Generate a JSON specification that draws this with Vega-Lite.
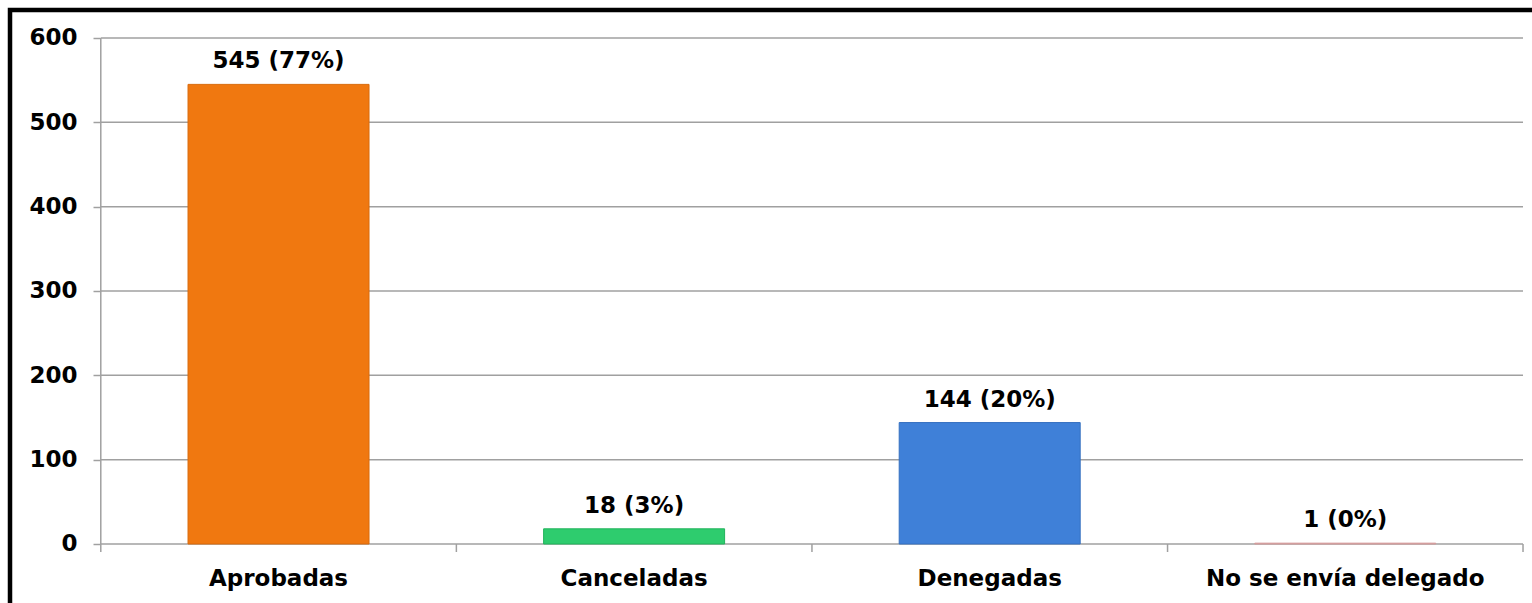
{
  "$schema": "https://vega.github.io/schema/vega-lite/v6.json",
  "autosize": {"type": "none"},
  "width": 1532,
  "height": 603,
  "padding": {"left": 10, "top": 10, "right": -10, "bottom": -10},
  "background": "#ffffff",
  "view": {"stroke": "#000000", "strokeWidth": 4.5},
  "datasets": {
    "main": [
      {"categoria": "Aprobadas", "valor": 545, "etiqueta": "545 (77%)"},
      {"categoria": "Canceladas", "valor": 18, "etiqueta": "18 (3%)"},
      {"categoria": "Denegadas", "valor": 144, "etiqueta": "144 (20%)"},
      {"categoria": "No se envía delegado", "valor": 1, "etiqueta": "1 (0%)"}
    ],
    "grid": [{"v": 0}, {"v": 100}, {"v": 200}, {"v": 300}, {"v": 400}, {"v": 500}, {"v": 600}],
    "one": [{"k": 1}]
  },
  "data": {"name": "main"},
  "layer": [
    {
      "data": {"name": "grid"},
      "mark": {"type": "rule", "color": "#A0A0A0", "strokeWidth": 1.5},
      "encoding": {
        "y": {"field": "v", "type": "quantitative", "title": null},
        "x": {"datum": "Aprobadas", "type": "nominal", "bandPosition": -0.482, "title": null},
        "x2": {"datum": "No se envía delegado", "bandPosition": 1.482}
      }
    },
    {
      "data": {"name": "one"},
      "mark": {"type": "rule", "color": "#A0A0A0", "strokeWidth": 1.5},
      "encoding": {
        "x": {"datum": "Aprobadas", "type": "nominal", "bandPosition": -0.482, "title": null},
        "y": {"datum": 0, "type": "quantitative", "title": null},
        "y2": {"datum": 600}
      }
    },
    {
      "mark": {"type": "rule", "color": "#A0A0A0", "strokeWidth": 1.5},
      "encoding": {
        "x": {"field": "categoria", "type": "nominal", "bandPosition": -0.482, "title": null},
        "y": {"datum": 0, "type": "quantitative", "title": null},
        "y2": {"datum": -9.5}
      }
    },
    {
      "data": {"name": "one"},
      "mark": {"type": "rule", "color": "#A0A0A0", "strokeWidth": 1.5},
      "encoding": {
        "x": {"datum": "No se envía delegado", "type": "nominal", "bandPosition": 1.482, "title": null},
        "y": {"datum": 0, "type": "quantitative", "title": null},
        "y2": {"datum": -9.5}
      }
    },
    {
      "mark": {"type": "bar", "strokeWidth": 1},
      "encoding": {
        "x": {
          "field": "categoria",
          "type": "nominal",
          "sort": null,
          "title": null,
          "scale": {"type": "band", "paddingInner": 0.491, "paddingOuter": 0.3997, "align": 0.6263},
          "axis": {
            "orient": "bottom",
            "offset": -69,
            "title": null,
            "bandPosition": 0.5,
            "domain": false,
            "ticks": false,
            "tickSize": 0,
            "grid": false,
            "labelAngle": 0,
            "labelAlign": "center",
            "labelLimit": 0,
            "labelPadding": 34,
            "labelFont": "DejaVu Sans",
            "labelFontWeight": "bold",
            "labelFontSize": 23,
            "labelColor": "#000000"
          }
        },
        "y": {
          "field": "valor",
          "type": "quantitative",
          "title": null,
          "scale": {"domain": [-81.82, 633.2], "nice": false, "zero": false},
          "axis": {
            "orient": "left",
            "offset": -90,
            "title": null,
            "values": [0, 100, 200, 300, 400, 500, 600],
            "domain": false,
            "grid": false,
            "tickSize": 7,
            "tickColor": "#A0A0A0",
            "tickWidth": 1.5,
            "labelPadding": 16,
            "labelFont": "DejaVu Sans",
            "labelFontWeight": "bold",
            "labelFontSize": 23,
            "labelColor": "#000000"
          }
        },
        "color": {
          "field": "categoria",
          "type": "nominal",
          "legend": null,
          "scale": {
            "domain": ["Aprobadas", "Canceladas", "Denegadas", "No se envía delegado"],
            "range": ["#F07810", "#2ECC6E", "#3F80D8", "#DDA6A6"]
          }
        },
        "stroke": {
          "field": "categoria",
          "type": "nominal",
          "legend": null,
          "scale": {
            "domain": ["Aprobadas", "Canceladas", "Denegadas", "No se envía delegado"],
            "range": ["#D96A0C", "#22B35C", "#3570C0", "#D49A9A"]
          }
        }
      }
    },
    {
      "mark": {
        "type": "text",
        "font": "DejaVu Sans",
        "fontWeight": "bold",
        "fontSize": 23,
        "baseline": "alphabetic",
        "align": "center",
        "dy": -16,
        "color": "#000000"
      },
      "encoding": {
        "x": {"field": "categoria", "type": "nominal", "title": null},
        "y": {"field": "valor", "type": "quantitative", "title": null},
        "text": {"field": "etiqueta"}
      }
    }
  ]
}
